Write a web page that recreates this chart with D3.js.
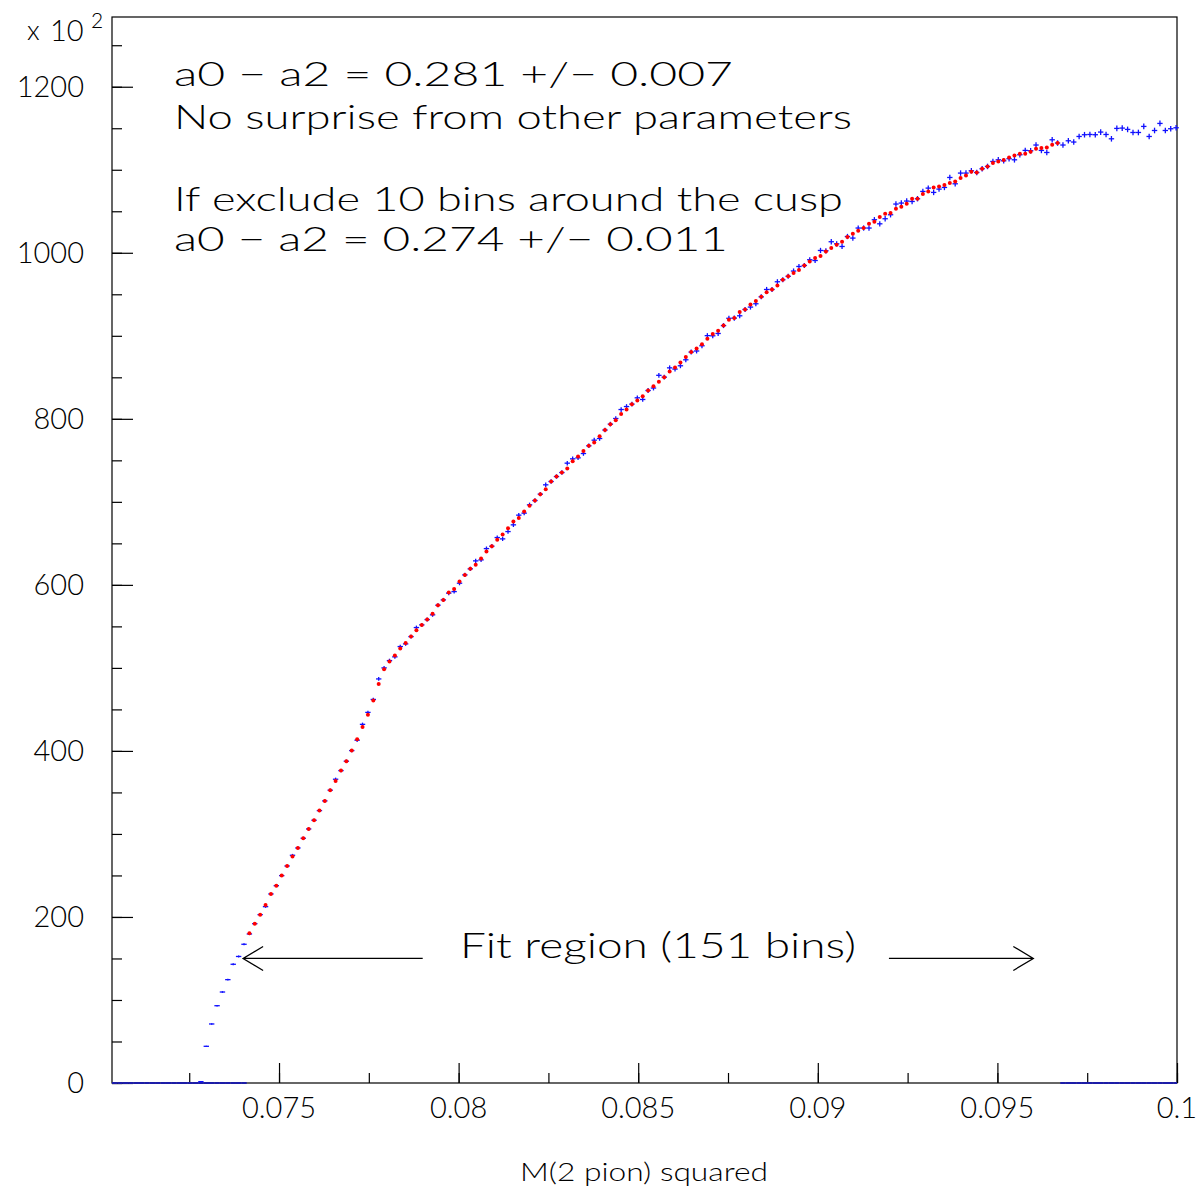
<!DOCTYPE html>
<html>
<head>
<meta charset="utf-8">
<script src="https://cdn.jsdelivr.net/npm/d3@7"></script>
<style>
  body { margin: 0; background: #fff; }
  svg { display: block; }
  text { font-family: "Lato", "Liberation Sans", sans-serif; font-weight: 300; fill: #000; }
</style>
</head>
<body>
<svg width="1200" height="1193"></svg>
<script>

// histogram binning (x axis is M^2 of the two pions)
var binStart = 0.07035;
var binWidth = 0.00015;

// data histogram contents (x 10^2), bins 0..197
var dataValues = [
	0, 0, 0, 0, 0, 0, 0, 0, 0, 0, 0, 0, 0, 0, 0, 0,
	1.6, 44.2, 71.1, 93.1, 109.6, 124.5, 143.0, 152.4, 167.1, 179.5,
	191.9, 202.8, 212.4, 227.7, 237.7, 249.8, 261.4, 274.3, 283.1, 294.8,
	306.0, 316.5, 328.1, 339.8, 352.7, 365.9, 376.3, 387.6, 400.4, 412.9,
	432.0, 446.4, 462.0, 486.7, 500.0, 508.8, 513.3, 525.7, 528.9, 537.7,
	548.6, 551.8, 558.2, 563.9, 575.5, 581.9, 590.0, 591.9, 602.0, 612.0,
	619.3, 628.9, 630.1, 643.7, 646.6, 657.0, 655.4, 664.2, 672.3, 684.0,
	686.4, 696.4, 701.6, 709.3, 720.5, 724.5, 730.5, 735.3, 746.6, 751.8,
	753.0, 758.2, 767.5, 774.3, 776.3, 786.5, 793.6, 800.4, 811.2, 814.8,
	817.7, 825.3, 823.3, 834.1, 837.1, 852.4, 850.2, 861.4, 859.9, 863.9,
	871.1, 880.4, 881.7, 888.0, 900.2, 900.0, 902.8, 912.3, 921.1, 921.3,
	924.1, 931.7, 934.6, 938.6, 947.0, 955.8, 955.8, 965.1, 967.5, 971.7,
	978.0, 983.5, 984.7, 991.6, 990.7, 1002.8, 1002.4, 1013.3, 1010.8, 1007.6,
	1019.6, 1017.7, 1029.8, 1029.8, 1029.8, 1039.8, 1034.9, 1041.0, 1045.8, 1058.7,
	1059.9, 1062.3, 1061.8, 1065.1, 1073.9, 1077.9, 1072.7, 1076.7, 1078.7, 1090.7,
	1083.1, 1096.0, 1096.0, 1098.8, 1096.7, 1101.2, 1104.0, 1110.0, 1112.0, 1110.8,
	1113.3, 1112.0, 1118.1, 1123.3, 1122.9, 1129.8, 1123.3, 1120.8, 1136.1, 1132.2,
	1129.8, 1134.9, 1133.4, 1140.1, 1142.2, 1142.5, 1142.2, 1145.4, 1142.5, 1137.3,
	1149.8, 1150.2, 1148.6, 1144.9, 1144.9, 1152.2, 1140.1, 1147.3, 1155.8, 1147.3,
	1149.4, 1150.6
];

// fit result, 151 bins starting at bin 25
var fitFirstBin = 25;
var fitValues = [
	180.4, 191.9, 202.8, 214.5, 227.7, 237.7, 249.8, 261.4, 272.7, 283.1,
	294.8, 306.0, 316.5, 328.1, 339.8, 352.7, 363.9, 376.3, 387.6, 400.4,
	414.1, 428.7, 443.7, 460.8, 480.5, 498.4, 507.8, 514.8, 523.3, 529.9,
	537.7, 545.2, 551.8, 558.2, 565.1, 575.5, 581.9, 590.7, 595.0, 604.0,
	612.0, 619.3, 624.1, 631.7, 640.1, 646.6, 654.2, 660.6, 668.3, 676.3,
	680.4, 688.3, 695.2, 701.6, 709.3, 715.3, 724.5, 730.5, 735.3, 740.1,
	749.0, 754.6, 761.2, 767.5, 771.4, 778.9, 786.5, 793.6, 798.4, 805.7,
	811.2, 817.7, 822.0, 827.3, 834.1, 839.2, 844.6, 850.2, 857.0, 861.8,
	867.8, 874.5, 880.4, 884.6, 889.8, 896.6, 902.2, 906.0, 912.3, 919.3,
	921.3, 928.6, 931.7, 937.7, 941.9, 947.0, 952.6, 955.8, 960.6, 967.5,
	971.7, 975.5, 979.2, 984.7, 989.5, 993.6, 996.0, 1001.6, 1005.7, 1009.6,
	1013.3, 1018.9, 1022.9, 1026.5, 1029.8, 1034.9, 1037.3, 1043.0, 1047.0, 1047.8,
	1053.0, 1055.4, 1059.0, 1065.1, 1065.1, 1070.7, 1073.9, 1078.7, 1079.9, 1081.6,
	1084.0, 1085.9, 1090.0, 1093.1, 1097.6, 1096.7, 1101.2, 1104.0, 1108.1, 1110.0,
	1111.7, 1114.8, 1117.2, 1119.3, 1119.3, 1121.7, 1125.3, 1126.1, 1126.9, 1130.1,
	1132.2
];

var xTicksMajor = [0.075, 0.08, 0.085, 0.09, 0.095, 0.1];
var xTickLabels = ["0.075", "0.08", "0.085", "0.09", "0.095", "0.1"];
var yTicksMajor = [0, 200, 400, 600, 800, 1000, 1200];

var textLines = [
	"a0 \u2212 a2 = 0.281 +/\u2212 0.007",
	"No surprise from other parameters",
	"If exclude 10 bins around the cusp",
	"a0 \u2212 a2 = 0.274 +/\u2212 0.011"
];
var fitLabel = "Fit region (151 bins)";
var xTitle = "M(2 pion) squared";

var chart = (function(){

	var svg = d3.select("svg");
	var left = 112, right = 1177, top = 17, bottom = 1083;

	var x = d3.scaleLinear().domain([binStart, 0.1]).range([left, right]);
	var y = d3.scaleLinear().domain([0, 1284]).range([bottom, top]);

	function center(i){ return binStart + (i + 0.5) * binWidth; }

	function draw_axes(){
		var minorX = d3.range(0.0725, 0.1001, 0.0025);
		var minorY = d3.range(0, 1284, 50);

		var xAxis = d3.axisBottom(x).tickValues(minorX).tickSize(-10).tickFormat("");
		var xMajor = d3.axisBottom(x).tickValues(xTicksMajor).tickSize(-20).tickFormat("");
		var yAxis = d3.axisLeft(y).tickValues(minorY).tickSize(-10).tickFormat("");
		var yMajor = d3.axisLeft(y).tickValues(yTicksMajor).tickSize(-21).tickFormat("");

		[[xAxis, "translate(0," + bottom + ")"], [xMajor, "translate(0," + bottom + ")"],
		 [yAxis, "translate(" + left + ",0)"], [yMajor, "translate(" + left + ",0)"]].forEach(function(a){
			var g = svg.append("g").attr("transform", a[1]).call(a[0]);
			g.select(".domain").remove();
			g.selectAll("line").attr("stroke", "#000").attr("stroke-width", 1.2);
		});

		svg.append("rect")
			.attr("x", left).attr("y", top)
			.attr("width", right - left).attr("height", bottom - top)
			.attr("fill", "none").attr("stroke", "#000").attr("stroke-width", 1.2);

		svg.append("g").selectAll("text").data(xTicksMajor).enter().append("text")
			.attr("x", function(d){ return x(d); })
			.attr("y", bottom + 35)
			.attr("text-anchor", "middle")
			.attr("font-size", 29)
			.text(function(d, i){ return xTickLabels[i]; });

		svg.append("g").selectAll("text").data(yTicksMajor).enter().append("text")
			.attr("x", left - 28)
			.attr("y", function(d){ return y(d) + 10; })
			.attr("text-anchor", "end")
			.attr("font-size", 29)
			.text(function(d){ return d; });

		// exponent of the y axis
		svg.append("text").attr("x", 27).attr("y", 40).attr("font-size", 27).text("x");
		svg.append("text").attr("x", 50).attr("y", 41).attr("font-size", 29).text("10");
		svg.append("text").attr("x", 91).attr("y", 28).attr("font-size", 21).text("2");

		svg.append("text")
			.attr("x", 520).attr("y", 1181)
			.attr("font-size", 25)
			.attr("textLength", 248).attr("lengthAdjust", "spacingAndGlyphs")
			.text(xTitle);
	}

	function draw_data(){
		var fitLast = fitFirstBin + fitValues.length - 1;

		// empty fit histogram outside the fit range
		var outside = d3.range(dataValues.length).filter(function(i){ return i < fitFirstBin || i > fitLast; });
		svg.append("g").selectAll("line").data(outside).enter().append("line")
			.attr("x1", function(i){ return x(binStart + i * binWidth); })
			.attr("x2", function(i){ return Math.min(right, x(binStart + (i + 1) * binWidth)); })
			.attr("y1", y(0)).attr("y2", y(0))
			.attr("stroke", "#1c1ca8").attr("stroke-width", 2);

		var pts = [];
		dataValues.forEach(function(v, i){ if(v > 0){ pts.push({ i: i, v: v, e: Math.sqrt(v * 100) / 100 }); } });

		var g = svg.append("g").attr("stroke", "#1010ff").attr("stroke-width", 1.3);
		var cross = g.selectAll("g").data(pts).enter().append("g");
		cross.append("line")
			.attr("x1", function(d){ return x(center(d.i) - binWidth * 0.5); })
			.attr("x2", function(d){ return x(center(d.i) + binWidth * 0.5); })
			.attr("y1", function(d){ return y(d.v); })
			.attr("y2", function(d){ return y(d.v); });
		cross.append("line")
			.attr("x1", function(d){ return x(center(d.i)); })
			.attr("x2", function(d){ return x(center(d.i)); })
			.attr("y1", function(d){ return y(d.v - d.e); })
			.attr("y2", function(d){ return y(d.v + d.e); });

		svg.append("g").selectAll("circle").data(fitValues).enter().append("circle")
			.attr("cx", function(d, k){ return x(center(fitFirstBin + k)); })
			.attr("cy", function(d){ return y(d); })
			.attr("r", 2.0)
			.attr("fill", "#ff0000");
	}

	function draw_notes(){
		var widths = [559, 678, 669, 554];
		var baselines = [86, 129, 211, 251];
		textLines.forEach(function(t, i){
			svg.append("text")
				.attr("x", 174).attr("y", baselines[i])
				.attr("font-size", 33)
				.attr("textLength", widths[i]).attr("lengthAdjust", "spacingAndGlyphs")
				.text(t);
		});

		svg.append("text")
			.attr("x", 460).attr("y", 958)
			.attr("font-size", 35)
			.attr("textLength", 396).attr("lengthAdjust", "spacingAndGlyphs")
			.text(fitLabel);

		// arrows marking the fit range, at y = 150
		var arrows = [[0.0790, 0.07400], [0.09198, 0.0960]];
		arrows.forEach(function(a){
			var x0 = x(a[0]), x1 = x(a[1]), yy = y(150);
			var dir = x1 > x0 ? -1 : 1;
			var path = d3.path();
			path.moveTo(x0, yy); path.lineTo(x1, yy);
			path.moveTo(x1 + dir * 20, yy - 12); path.lineTo(x1, yy); path.lineTo(x1 + dir * 20, yy + 12);
			svg.append("path").attr("d", path.toString())
				.attr("fill", "none").attr("stroke", "#000").attr("stroke-width", 1.3);
		});
	}

	draw_axes();
	draw_data();
	draw_notes();

	return null;
})();

</script>
</body>
</html>
